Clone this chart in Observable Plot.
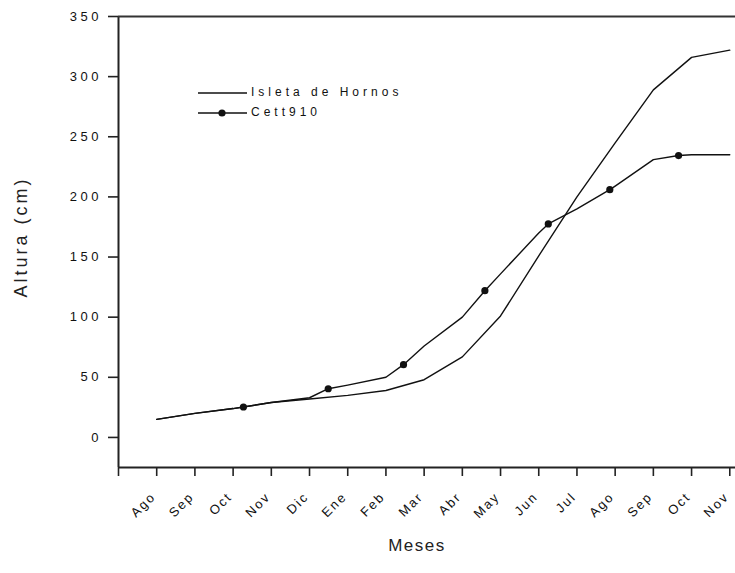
<!DOCTYPE html>
<html>
<head>
<meta charset="utf-8">
<script src="https://cdn.jsdelivr.net/npm/d3@7"></script>
<script src="https://cdn.jsdelivr.net/npm/@observablehq/plot@0.6"></script>
<style>
  html, body { margin: 0; padding: 0; background: #fff; }
  #chart svg { display: block; }
  g[aria-label="y-axis tick label"] text { letter-spacing: 3.5px; }
  .xlab text { letter-spacing: 2px; }
</style>
</head>
<body>
<div id="chart"></div>
<script>
const months = ["Ago","Sep","Oct","Nov","Dic","Ene","Feb","Mar","Abr","May","Jun","Jul","Ago","Sep","Oct","Nov"];
const isleta = [15, 20, 24, 29, 32, 35, 39, 48, 67, 101, 151, 200, 245, 289, 316, 322];
const cett = [15, 20, 24, 29, 33, 43.5, 50, 76, 100, 136, 170, 190, 209, 231, 235, 235];
const cettMarkX = [2.27, 4.49, 6.46, 8.59, 10.25, 11.86, 13.66];
const cettMarkY = [25.3, 40.5, 60.5, 122, 177.5, 206, 234.4];
const yTicks = [0, 50, 100, 150, 200, 250, 300, 350];
const seriesNames = ["Isleta de Hornos", "Cett910"];

const isletaData = months.map((m, i) => ({x: i, y: isleta[i]}));
const cettMarks = cettMarkX.map((x, i) => ({x, y: cettMarkY[i]}));
const cettData = months.map((m, i) => ({x: i, y: cett[i]})).concat(cettMarks).sort((a, b) => a.x - b.x);
const monthData = months.map((m, i) => ({x: i, label: m}));

const ink = "#111";
const chart = Plot.plot({
  width: 735,
  height: 573,
  marginLeft: 118,
  marginRight: 0,
  marginTop: 16,
  marginBottom: 106,
  style: {fontFamily: "'Liberation Sans', Arial, sans-serif", background: "#fff", color: ink},
  x: {domain: [-1, 15.15]},
  y: {domain: [-25, 350]},
  marks: [
    Plot.axisY({ticks: yTicks, tickSize: 10, tickPadding: 6.5, fontSize: 13, label: null, strokeWidth: 1.6, stroke: "#222"}),
    Plot.axisX({ticks: d3.range(-1, 16), tickSize: 9, tickFormat: () => "", label: null, strokeWidth: 1.6, stroke: "#222"}),
    Plot.text(monthData, {x: "x", text: "label", frameAnchor: "bottom", dy: 27, dx: -3, rotate: -45, textAnchor: "end", lineAnchor: "middle", fontSize: 13, fill: ink, className: "xlab"}),
    Plot.ruleX([-1], {stroke: "#222", strokeWidth: 2}),
    Plot.ruleY([-25], {stroke: "#222", strokeWidth: 2}),
    Plot.ruleY([350], {stroke: "#333", strokeWidth: 2}),
    Plot.line(isletaData, {x: "x", y: "y", stroke: ink, strokeWidth: 1.4}),
    Plot.line(cettData, {x: "x", y: "y", stroke: ink, strokeWidth: 1.4}),
    Plot.dot(cettMarks, {x: "x", y: "y", r: 3.6, fill: ink, stroke: "none"})
  ]
});

const svg = d3.select(chart);
const font = "'Liberation Sans', Arial, sans-serif";
// Axis titles
svg.append("text")
  .attr("transform", "translate(22,237) rotate(-90)")
  .attr("text-anchor", "middle").attr("dominant-baseline", "middle")
  .attr("font-family", font).attr("font-size", 18).attr("letter-spacing", "3px")
  .attr("fill", "#222").text("Altura (cm)");
svg.append("text")
  .attr("x", 417).attr("y", 551)
  .attr("text-anchor", "middle")
  .attr("font-family", font).attr("font-size", 17).attr("letter-spacing", "1.5px")
  .attr("fill", "#222").text("Meses");

// Legend
const leg = svg.append("g").attr("font-family", font).attr("font-size", 12).attr("fill", ink).attr("text-anchor", "start");
[93, 113].forEach((yy, k) => {
  leg.append("line").attr("x1", 198).attr("x2", 247).attr("y1", yy).attr("y2", yy)
    .attr("stroke", ink).attr("stroke-width", 1.4);
  if (k === 1) leg.append("circle").attr("cx", 222).attr("cy", yy).attr("r", 3.6).attr("fill", ink);
  leg.append("text").attr("x", 251).attr("y", yy).attr("dominant-baseline", "middle")
    .attr("text-anchor", "start").attr("letter-spacing", "4px").text(seriesNames[k]);
});

document.getElementById("chart").appendChild(chart);
</script>
</body>
</html>
